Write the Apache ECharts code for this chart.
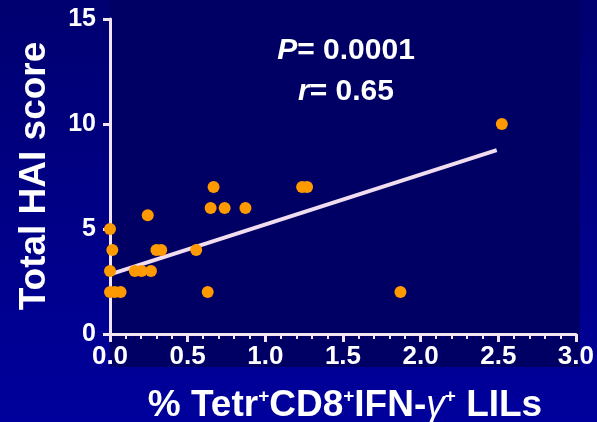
<!DOCTYPE html>
<html>
<head>
<meta charset="utf-8">
<script src="https://cdn.jsdelivr.net/npm/echarts@6/dist/echarts.min.js"></script>
<style>html,body{margin:0;padding:0;background:#000080;}#c{width:597px;height:422px;}</style>
</head>
<body>
<div id="c"></div>
<script>
// Data
var tetrPct = [0, 0.015, 0, 0, 0.03, 0.068, 0.16, 0.203, 0.264, 0.243, 0.299, 0.33, 0.555, 0.629, 0.667, 0.648, 0.738, 0.872, 1.237, 1.269, 1.870, 2.523];
var haiScore = [5, 4, 3, 2, 2, 2, 3, 3, 3, 5.65, 4, 4, 4, 2, 7, 6, 6, 6, 7, 7, 2, 10];
var fitX = [0.02, 2.49];
var fitY = [2.89, 8.76];
var xTicks = [0, 0.5, 1.0, 1.5, 2.0, 2.5, 3.0];
var yTicks = [0, 5, 10, 15];

var FONT = "'Liberation Sans', Arial, sans-serif";
var points = tetrPct.map(function (x, i) { return [x, haiScore[i]]; });
var fitLine = fitX.map(function (x, i) { return [x, fitY[i]]; });
var axisCol = '#F3E4F3';

var chart = echarts.init(document.getElementById('c'), null, {renderer: 'canvas'});
chart.setOption({
  animation: false,
  backgroundColor: {
    type: 'linear', x: 0, y: 0, x2: 0, y2: 1,
    colorStops: [{offset: 0, color: '#000070'}, {offset: 1, color: '#00009C'}]
  },
  graphic: [
    {type: 'rect', z: -10, silent: true, shape: {x: 110, y: 0, width: 470, height: 367}, style: {fill: '#000064'}},
    {type: 'text', x: 35, y: 176, rotation: Math.PI / 2, style: {
      text: 'Total HAI score', fill: '#ffffff', font: 'bold 37px ' + FONT,
      textAlign: 'center', textVerticalAlign: 'middle'}},
    {type: 'text', x: 346, y: 51, style: {
      text: '{i|P}{n|= 0.0001}', fill: '#fff', textAlign: 'center', textVerticalAlign: 'middle',
      rich: {i: {fontStyle: 'italic', fontWeight: 'bold', fontSize: 30, fontFamily: FONT, fill: '#fff'},
             n: {fontWeight: 'bold', fontSize: 30, fontFamily: FONT, fill: '#fff'}}}},
    {type: 'text', x: 346, y: 92, style: {
      text: '{i|r}{n|= 0.65}', fill: '#fff', textAlign: 'center', textVerticalAlign: 'middle',
      rich: {i: {fontStyle: 'italic', fontWeight: 'bold', fontSize: 30, fontFamily: FONT, fill: '#fff'},
             n: {fontWeight: 'bold', fontSize: 30, fontFamily: FONT, fill: '#fff'}}}},
    {type: 'text', x: 345, y: 404, style: {
      text: '{n|% Tetr}{s|+}{n|CD8}{s|+}{n|IFN-}{g|γ}{s|+}{n| LILs}',
      textAlign: 'center', textVerticalAlign: 'middle',
      rich: {
        n: {fontWeight: 'bold', fontSize: 37, fontFamily: FONT, fill: '#fff', lineHeight: 40, verticalAlign: 'bottom'},
        g: {fontStyle: 'italic', fontSize: 37, fontFamily: FONT, fill: '#fff', lineHeight: 40, verticalAlign: 'bottom'},
        s: {fontWeight: 'bold', fontSize: 19, fontFamily: FONT, fill: '#fff', lineHeight: 40, verticalAlign: 'top', padding: [3, 0, 0, 0]}
      }}}
  ],
  grid: {left: 110, right: 18, top: 19, bottom: 88, containLabel: false},
  xAxis: {
    type: 'value', min: 0, max: 3, interval: 0.5,
    axisLine: {show: true, onZero: false, lineStyle: {color: axisCol, width: 3}},
    axisTick: {show: true, length: 8, lineStyle: {color: axisCol, width: 3}},
    minorTick: {show: true, splitNumber: 5, length: 5, lineStyle: {color: axisCol, width: 2}},
    splitLine: {show: false},
    axisLabel: {
      color: '#fff', fontWeight: 'bold', fontSize: 26, fontFamily: FONT, margin: 10,
      formatter: function (v) { return v.toFixed(1); }
    }
  },
  yAxis: {
    type: 'value', min: 0, max: 15, interval: 5,
    axisLine: {show: true, onZero: false, lineStyle: {color: axisCol, width: 3}},
    axisTick: {show: true, length: 7, lineStyle: {color: axisCol, width: 3}},
    splitLine: {show: false},
    axisLabel: {color: '#fff', fontWeight: 'bold', fontSize: 25, fontFamily: FONT, margin: 14}
  },
  series: [
    {type: 'line', data: fitLine, symbol: 'none', z: 2,
     lineStyle: {color: '#F0DDF0', width: 4}},
    {type: 'scatter', data: points, symbol: 'circle', symbolSize: 12, z: 3,
     itemStyle: {color: '#FF9900', opacity: 1}}
  ]
});
</script>
</body>
</html>
